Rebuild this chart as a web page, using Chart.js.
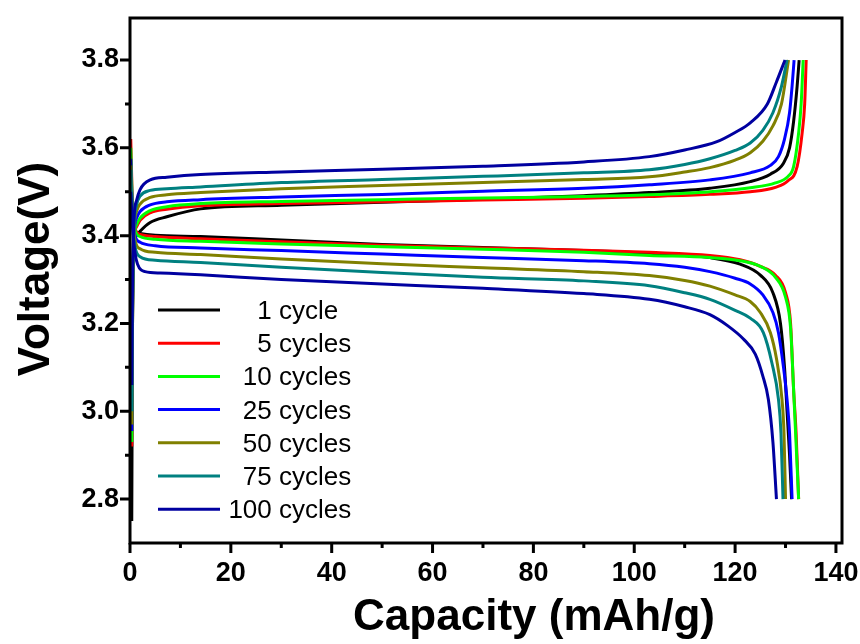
<!DOCTYPE html>
<html>
<head>
<meta charset="utf-8">
<script src="https://cdn.jsdelivr.net/npm/chart.js"></script>
<style>
  body { margin: 0; background: #fff; }
  #wrap { width: 860px; height: 644px; }
</style>
</head>
<body>
<div id="wrap"><canvas id="chart" width="860" height="644"></canvas></div>
<script>
const cycleLabels = ["1 cycle", "5 cycles", "10 cycles", "25 cycles", "50 cycles", "75 cycles", "100 cycles"];
const cycleColors = ["#000000", "#ff0000", "#00ff00", "#0000ff", "#808000", "#008080", "#0000a0"];

// charge curves [capacity mAh/g, voltage V]
const charge1 = [[0.35,2.75],[0.5,3.2],[0.8,3.38],[1.3,3.40],[2,3.41],[4,3.43],[7.3,3.443],[14,3.461],[30,3.469],[50,3.476],[70,3.483],[90,3.491],[103,3.498],[115,3.508],[123,3.523],[127,3.54],[129.6,3.565],[130.8,3.6],[131.6,3.66],[132.3,3.74],[132.7,3.8]];
const charge5 = [[0.35,2.92],[0.5,3.2],[0.8,3.39],[1.3,3.42],[2,3.435],[4,3.452],[7.3,3.46],[14,3.468],[30,3.473],[50,3.477],[70,3.481],[90,3.485],[103,3.489],[115,3.494],[123,3.5],[128,3.51],[130.5,3.525],[132.3,3.557],[133.3,3.634],[133.8,3.7],[134.1,3.8]];
const charge10 = [[0.35,2.93],[0.5,3.2],[0.8,3.39],[1.3,3.425],[2,3.44],[4,3.457],[7.3,3.466],[14,3.473],[30,3.478],[50,3.482],[70,3.486],[90,3.489],[103,3.493],[115,3.5],[123,3.509],[128,3.52],[130.5,3.535],[131.6,3.557],[132.6,3.634],[133.1,3.7],[133.5,3.8]];
const charge25 = [[0.35,2.955],[0.5,3.22],[0.8,3.4],[1.3,3.44],[2,3.455],[4,3.47],[7.3,3.477],[14,3.482],[30,3.488],[50,3.494],[70,3.501],[90,3.508],[103,3.516],[115,3.527],[123,3.543],[127,3.56],[128.6,3.58],[129.8,3.62],[130.8,3.68],[131.3,3.74],[131.7,3.8]];
const charge50 = [[0.35,2.97],[0.5,3.24],[0.8,3.41],[1.3,3.455],[2,3.472],[4,3.487],[7.3,3.493],[14,3.498],[30,3.507],[50,3.514],[70,3.521],[90,3.528],[103,3.534],[110,3.545],[115,3.555],[120,3.572],[123,3.589],[125.5,3.615],[127.5,3.65],[129.2,3.7],[130.6,3.8]];
const charge75 = [[0.35,3.0],[0.5,3.26],[0.8,3.42],[1.3,3.47],[2,3.49],[4,3.503],[7.3,3.507],[14,3.511],[30,3.521],[50,3.528],[70,3.535],[90,3.543],[103,3.55],[110,3.562],[115,3.575],[120,3.594],[123,3.611],[125.5,3.64],[127.5,3.68],[129.2,3.74],[130.3,3.8]];
const charge100 = [[0.35,3.06],[0.5,3.3],[0.8,3.44],[1.3,3.48],[2,3.505],[4,3.527],[7.3,3.533],[14,3.539],[30,3.545],[50,3.551],[70,3.558],[90,3.568],[103,3.58],[110,3.595],[116.4,3.614],[120,3.635],[123,3.657],[126.4,3.70],[128.2,3.75],[129.9,3.8]];

// discharge curves
const discharge1 = [[0.15,3.52],[0.5,3.45],[1,3.412],[2,3.405],[5,3.401],[14,3.398],[30,3.39],[50,3.38],[70,3.373],[90,3.366],[103,3.36],[115,3.35],[121,3.335],[125,3.31],[127.5,3.27],[129,3.2],[129.8,3.1],[130.3,3.0],[130.8,2.9],[131.2,2.8]];
const discharge5 = [[0.15,3.62],[0.5,3.47],[1,3.415],[2,3.403],[5,3.398],[14,3.393],[30,3.386],[50,3.378],[70,3.372],[90,3.367],[103,3.362],[115,3.355],[121,3.345],[125,3.33],[128,3.31],[130,3.27],[131,3.2],[131.6,3.05],[132.1,2.95],[132.6,2.8]];
const discharge10 = [[0.15,3.6],[0.5,3.46],[1,3.412],[2,3.398],[5,3.392],[14,3.387],[30,3.381],[50,3.375],[70,3.369],[90,3.362],[103,3.355],[115,3.35],[121,3.343],[125,3.33],[128,3.305],[130,3.26],[131,3.19],[131.6,3.05],[132.2,2.9],[132.6,2.8]];
const discharge25 = [[0.15,3.575],[0.5,3.45],[1,3.40],[2,3.385],[5,3.377],[14,3.372],[30,3.366],[50,3.358],[70,3.35],[90,3.343],[103,3.336],[110,3.328],[115,3.318],[120,3.303],[123,3.29],[125.5,3.265],[127.5,3.225],[128.6,3.179],[129.6,3.1],[130.3,3.027],[130.8,2.95],[131.3,2.8]];
const discharge50 = [[0.15,3.56],[0.5,3.44],[1,3.39],[2,3.37],[5,3.362],[14,3.357],[30,3.347],[50,3.336],[70,3.327],[90,3.318],[103,3.309],[110,3.298],[115,3.285],[120,3.265],[123,3.25],[125,3.225],[127,3.179],[128.2,3.12],[129.3,3.027],[129.7,2.95],[130,2.8]];
const discharge75 = [[0.15,3.55],[0.5,3.43],[1,3.375],[2,3.352],[5,3.344],[14,3.339],[30,3.328],[50,3.316],[70,3.305],[90,3.297],[103,3.286],[110,3.27],[115,3.255],[120,3.23],[123,3.212],[125.6,3.179],[127.3,3.11],[128.6,3.027],[129.1,2.95],[129.5,2.8]];
const discharge100 = [[0.15,3.5],[0.5,3.42],[1,3.36],[1.5,3.335],[3,3.318],[6,3.315],[14,3.311],[30,3.3],[50,3.29],[70,3.28],[90,3.268],[103,3.255],[110,3.238],[115,3.22],[118.5,3.195],[121.6,3.165],[124,3.13],[125.5,3.08],[126.6,3.027],[127.5,2.93],[128.2,2.8]];

const chargeCurves = [charge1, charge5, charge10, charge25, charge50, charge75, charge100];
const dischargeCurves = [discharge1, discharge5, discharge10, discharge25, discharge50, discharge75, discharge100];

const xMin = 0, xMax = 141.2;
const yMin = 2.7, yMax = 3.8957;
const xTickValues = [0, 10, 20, 30, 40, 50, 60, 70, 80, 90, 100, 110, 120, 130, 140];
const yTickValues = [2.8, 2.9, 3.0, 3.1, 3.2, 3.3, 3.4, 3.5, 3.6, 3.7, 3.8];

const FONT = '"Liberation Sans", Arial, sans-serif';

const datasets = [];
cycleLabels.forEach((label, i) => {
  [chargeCurves[i], dischargeCurves[i]].forEach(curve => {
    datasets.push({
      label: label,
      data: curve.map(p => ({ x: p[0], y: p[1] })),
      borderColor: cycleColors[i],
      backgroundColor: cycleColors[i],
      borderWidth: 3,
      pointRadius: 0,
      showLine: true,
      fill: false,
      cubicInterpolationMode: 'monotone',
      order: 100 - i
    });
  });
});

// frame, tick marks, titles and legend
const decorations = {
  id: 'decorations',
  afterDatasetsDraw(chart) {
    const ctx = chart.ctx;
    const area = chart.chartArea;
    const xs = chart.scales.x, ys = chart.scales.y;
    ctx.save();
    ctx.strokeStyle = '#000';
    ctx.lineWidth = 3;
    ctx.lineCap = 'butt';
    ctx.strokeRect(area.left, area.top, area.right - area.left, area.bottom - area.top);

    ctx.beginPath();
    xTickValues.forEach(v => {
      const px = xs.getPixelForValue(v);
      const len = v % 20 === 0 ? 10 : 5;
      ctx.moveTo(px, area.bottom);
      ctx.lineTo(px, area.bottom + len);
    });
    yTickValues.forEach(v => {
      const py = ys.getPixelForValue(v);
      const major = Math.round(v * 10) % 2 === 0;
      ctx.moveTo(area.left, py);
      ctx.lineTo(area.left - (major ? 10 : 5), py);
    });
    ctx.stroke();

    // axis titles
    ctx.fillStyle = '#000';
    ctx.font = 'bold 44px ' + FONT;
    ctx.textAlign = 'center';
    ctx.textBaseline = 'alphabetic';
    ctx.fillText('Capacity (mAh/g)', 534, 630);
    ctx.save();
    ctx.translate(49, 269);
    ctx.rotate(-Math.PI / 2);
    ctx.fillText('Voltage(V)', 0, 0);
    ctx.restore();

    // legend
    ctx.font = '26px ' + FONT;
    ctx.textAlign = 'left';
    cycleLabels.forEach((label, i) => {
      const y = 310 + i * 33.2;
      ctx.strokeStyle = cycleColors[i];
      ctx.lineWidth = 3;
      ctx.beginPath();
      ctx.moveTo(158, y);
      ctx.lineTo(220, y);
      ctx.stroke();
      const num = label.split(' ')[0];
      const startX = 279 - ctx.measureText(num + ' ').width;
      ctx.fillText(label, startX, y + 9);
    });
    ctx.restore();
  }
};

new Chart(document.getElementById('chart'), {
  type: 'scatter',
  data: { datasets: datasets },
  options: {
    responsive: false,
    animation: false,
    layout: { padding: { top: 18, right: 18, left: 0, bottom: 0 } },
    plugins: { legend: { display: false }, tooltip: { enabled: false } },
    scales: {
      x: {
        type: 'linear',
        min: xMin,
        max: xMax,
        grid: { display: false, drawTicks: false },
        border: { display: false },
        ticks: {
          stepSize: 10,
          includeBounds: false,
          autoSkip: false,
          maxRotation: 0,
          padding: 14,
          color: '#000',
          font: { family: FONT, size: 27, weight: 'bold' },
          callback: v => (v % 20 === 0 ? String(v) : '')
        },
        afterFit: s => { s.height = 101; s.paddingLeft = 0; s.paddingRight = 0; }
      },
      y: {
        type: 'linear',
        min: yMin,
        max: yMax,
        grid: { display: false, drawTicks: false },
        border: { display: false },
        ticks: {
          stepSize: 0.1,
          includeBounds: false,
          autoSkip: false,
          padding: 11,
          color: '#000',
          font: { family: FONT, size: 27, weight: 'bold' },
          callback: v => {
            const k = Math.round(v * 10);
            if (Math.abs(v * 10 - k) > 1e-6 || k % 2 !== 0 || k < 28 || k > 38) return '';
            return v.toFixed(1);
          }
        },
        afterFit: s => { s.width = 130; s.paddingTop = 0; s.paddingBottom = 0; }
      }
    }
  },
  plugins: [decorations]
});
</script>
</body>
</html>
